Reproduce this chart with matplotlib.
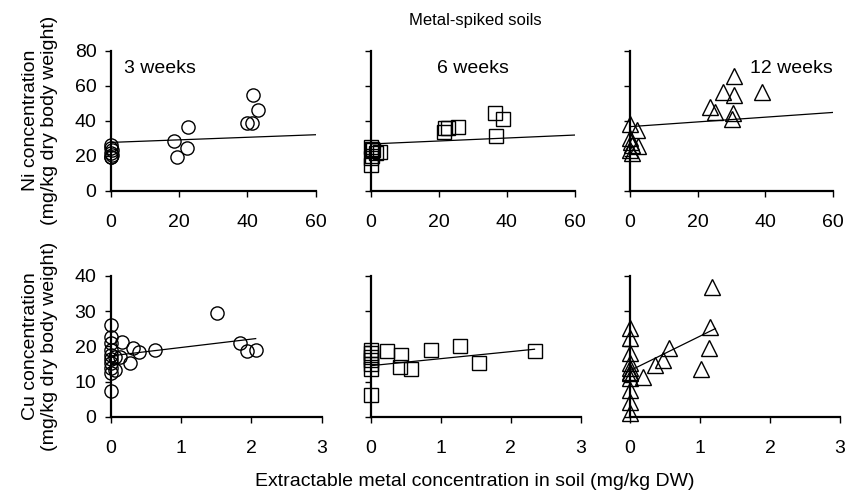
import matplotlib
matplotlib.use("Agg")
import matplotlib.pyplot as plt
import numpy as np

plt.rcParams['font.family'] = ['Liberation Sans', 'DejaVu Sans']

# ---- Ni in tissue vs extractable soil Ni ----
ni3_x = [0, 0, 0.2, 0, 0.3, 0, 0.1, 18.6, 19.4, 22.4, 22.7, 39.8, 41.4, 43.2, 41.7]
ni3_y = [26.0, 24.5, 23.0, 21.5, 20.5, 19.5, 19.0, 28.4, 19.4, 24.2, 36.6, 38.5, 38.5, 46.1, 54.7]

ni6_x = [0, 0.3, 0.8, 1.5, 0.5, 0.2, 0, 2.7, 21.6, 21.9, 22.8, 25.8, 36.6, 38.8, 36.8]
ni6_y = [25.0, 24.0, 23.0, 21.5, 20.0, 18.5, 14.5, 22.3, 33.7, 35.6, 35.6, 36.6, 44.2, 40.8, 31.4]

ni12_x = [0, 2.0, 0, 0.3, 0.5, 2.5, 0, 0.5, 23.7, 25.2, 27.5, 30.8, 30.8, 30.4, 30.1, 39.2]
ni12_y = [38.3, 34.7, 29.9, 28.0, 26.2, 25.5, 23.3, 21.4, 48.0, 45.1, 56.6, 54.7, 65.5, 44.6, 40.8, 56.2]

# ---- Cu in tissue vs extractable soil Cu ----
cu3_x = [0, 0, 0, 0.15, 0, 0, 0, 0.06, 0.13, 0, 0, 0.06, 0, 0,
         0.32, 0.40, 0.27, 0.63, 1.84, 1.94, 2.06, 1.51]
cu3_y = [26.1, 22.7, 20.9, 21.3, 19.0, 17.5, 16.3, 17.1, 16.9, 15.2, 13.8, 13.3, 12.3, 7.4,
         19.4, 18.3, 15.4, 19.0, 20.9, 18.7, 19.0, 29.4]

cu6_x = [0, 0, 0, 0, 0, 0, 0, 0.23, 0.43, 0.42, 0.57, 0.86, 1.27, 1.55, 2.34]
cu6_y = [19.0, 18.0, 17.0, 16.0, 15.0, 13.5, 6.2, 18.7, 17.5, 14.2, 13.5, 19.0, 20.1, 15.2, 18.7]

cu12_x = [0, 0, 0, 0, 0, 0, 0, 0, 0, 0, 0, 0.19, 0.36, 0.47, 0.55, 1.02, 1.13, 1.14, 1.17]
cu12_y = [25.1, 22.3, 18.0, 15.2, 13.8, 12.8, 12.3, 10.9, 7.6, 4.3, 1.0,
          11.4, 14.7, 16.1, 19.6, 13.5, 19.6, 25.4, 37.0]

# linear trend lines: intercept, slope, x end
ni_fit_b = [27.6, 26.7, 36.6]
ni_fit_m = [0.073, 0.085, 0.135]
ni_fit_xmax = [60, 60, 60]
cu_fit_b = [17.3, 14.5, 13.1]
cu_fit_m = [2.38, 2.0, 9.8]
cu_fit_xmax = [2.06, 2.34, 1.22]

week_labels = ["3 weeks", "6 weeks", "12 weeks"]
markers = ["o", "s", "^"]
marker_sizes = [9.5, 10, 11]

FS = 14

W, H = 847, 499
fig = plt.figure(figsize=(W / 100, H / 100), dpi=100)

def px_axes(x0, x1, ytop, ybot):
    return fig.add_axes([x0 / W, 1 - ybot / H, (x1 - x0) / W, (ybot - ytop) / H])

top_x = [(111, 315.5), (370.7, 574.7), (630, 832.5)]
bot_x = [(111, 321.7), (370.7, 580.7), (630, 840)]

ni_data = [(ni3_x, ni3_y), (ni6_x, ni6_y), (ni12_x, ni12_y)]
cu_data = [(cu3_x, cu3_y), (cu6_x, cu6_y), (cu12_x, cu12_y)]

def style(ax):
    for s in ["top", "right"]:
        ax.spines[s].set_visible(False)
    for s in ["left", "bottom"]:
        ax.spines[s].set_linewidth(1.6)
    ax.tick_params(direction="out", length=4.5, width=1.0, labelsize=FS)
    ax.tick_params(axis="x", pad=12)
    ax.tick_params(axis="y", pad=6)
    ax.patch.set_alpha(0)

for i in range(3):
    ax = px_axes(top_x[i][0], top_x[i][1], 50.7, 190.7)
    x, y = ni_data[i]
    ax.plot(x, y, linestyle="none", marker=markers[i], ms=marker_sizes[i],
            mfc="none", mec="black", mew=1.0, clip_on=False)
    xs = np.array([0, ni_fit_xmax[i]])
    ax.plot(xs, ni_fit_b[i] + ni_fit_m[i] * xs, color="black", lw=0.9)
    ax.set_xlim(0, 60)
    ax.set_ylim(0, 80)
    ax.set_xticks([0, 20, 40, 60])
    ax.set_yticks([0, 20, 40, 60, 80])
    ax.set_yticklabels(["0", "20", "40", "60", "80"] if i == 0 else [])
    style(ax)
    if i == 0:
        ax.set_ylabel("Ni concentration\n(mg/kg dry body weight)", fontsize=FS,
                      labelpad=12, linespacing=1.15)
        ax.text(0.065, 0.87, week_labels[i], transform=ax.transAxes, fontsize=FS,
                ha="left", va="center")
    elif i == 1:
        ax.text(0.5, 0.87, week_labels[i], transform=ax.transAxes, fontsize=FS,
                ha="center", va="center")
    else:
        ax.text(1.0, 0.87, week_labels[i], transform=ax.transAxes, fontsize=FS,
                ha="right", va="center")

for i in range(3):
    ax = px_axes(bot_x[i][0], bot_x[i][1], 276, 416.7)
    x, y = cu_data[i]
    ax.plot(x, y, linestyle="none", marker=markers[i], ms=marker_sizes[i],
            mfc="none", mec="black", mew=1.0, clip_on=False)
    xs = np.array([0, cu_fit_xmax[i]])
    ax.plot(xs, cu_fit_b[i] + cu_fit_m[i] * xs, color="black", lw=0.9)
    ax.set_xlim(0, 3)
    ax.set_ylim(0, 40)
    ax.set_xticks([0, 1, 2, 3])
    ax.set_yticks([0, 10, 20, 30, 40])
    ax.set_yticklabels(["0", "10", "20", "30", "40"] if i == 0 else [])
    style(ax)
    if i == 0:
        ax.set_ylabel("Cu concentration\n(mg/kg dry body weight)", fontsize=FS,
                      labelpad=12, linespacing=1.15)

fig.text(475 / W, 1 - 20 / H, "Metal-spiked soils", ha="center", va="center", fontsize=12)
fig.text(475 / W, 1 - 481 / H, "Extractable metal concentration in soil (mg/kg DW)",
         ha="center", va="center", fontsize=FS)

fig.savefig("out.png", dpi=100)
